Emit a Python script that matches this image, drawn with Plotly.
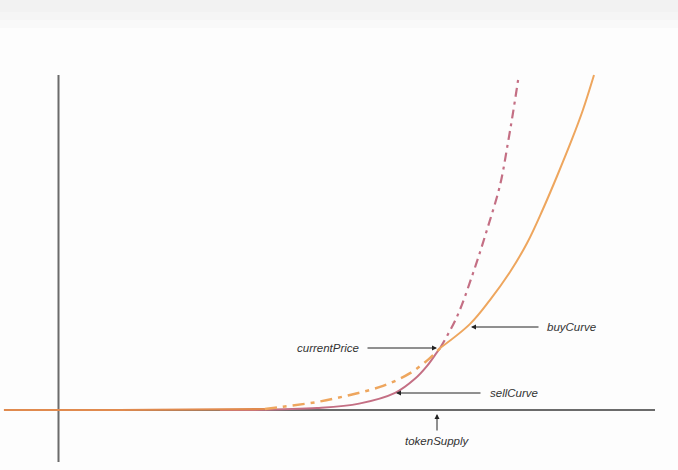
import plotly.graph_objects as go

# ---- data (tokenSupply on x, price on y; arbitrary units) ----
buy_flat_x = [-9.1, 10.0, 34.4]
buy_flat_y = [0.0, 0.0, 0.3]

buy_future_x = [34.4, 37.4, 43.1, 48.6, 54.1, 58.6, 61.9, 63.6]
buy_future_y = [0.3, 1.0, 2.4, 4.5, 7.2, 11.0, 15.5, 18.5]

buy_curve_x = [63.6, 68.6, 71.9, 75.25, 78.1, 80.75, 83.1, 85.6, 87.4, 89.25]
buy_curve_y = [18.5, 25.7, 32.8, 41.2, 49.85, 60.0, 69.85, 80.9, 89.55, 100.0]

sell_curve_x = [26.9, 31.9, 43.1, 50.1, 56.1, 59.4, 61.4, 63.1, 63.6]
sell_curve_y = [0.0, 0.0, 0.6, 1.9, 5.1, 9.3, 13.1, 17.3, 18.5]

sell_future_x = [63.6, 66.4, 69.1, 71.4, 73.6, 74.9, 75.75, 76.6]
sell_future_y = [18.5, 27.8, 40.9, 53.7, 67.2, 79.7, 88.7, 98.5]

labels = ["currentPrice", "buyCurve", "sellCurve", "tokenSupply"]

# ---- styles ----
ORANGE = "#EEA65E"
ORANGE_DARK = "#E08A4E"
MAUVE = "#C46F84"
AXIS = "#6B6B6B"
TEXT = "#333333"

# pixel -> data helpers (layout is a linear map of the 678x470 page)
X0, XS = 58.5, 6.0
Y0, YS = 410.0, 3.35
def dx(px):
    return (px - X0) / XS
def dy(py):
    return (Y0 - py) / YS

fig = go.Figure()

# axes
fig.add_shape(type="line", x0=dx(4), x1=dx(655), y0=0, y1=0,
              line=dict(color=AXIS, width=2), layer="below")
fig.add_shape(type="line", x0=0, x1=0, y0=dy(75), y1=dy(462),
              line=dict(color=AXIS, width=2), layer="below")

# sell curve (solid) and its continuation
fig.add_trace(go.Scatter(x=sell_curve_x, y=sell_curve_y, mode="lines",
                         line=dict(color=MAUVE, width=2, shape="spline"),
                         hoverinfo="skip"))
fig.add_trace(go.Scatter(x=sell_future_x, y=sell_future_y, mode="lines",
                         line=dict(color=MAUVE, width=2.2, shape="spline",
                                   dash="9px,5px,3px,5px"),
                         hoverinfo="skip"))
# buy curve
fig.add_trace(go.Scatter(x=buy_flat_x, y=buy_flat_y, mode="lines",
                         line=dict(color=ORANGE_DARK, width=2.2, shape="spline"),
                         hoverinfo="skip"))
fig.add_trace(go.Scatter(x=buy_future_x, y=buy_future_y, mode="lines",
                         line=dict(color=ORANGE, width=2.5, shape="spline",
                                   dash="12px,6px,4px,6px"),
                         hoverinfo="skip"))
fig.add_trace(go.Scatter(x=buy_curve_x, y=buy_curve_y, mode="lines",
                         line=dict(color=ORANGE, width=2, shape="spline"),
                         hoverinfo="skip"))

font = dict(family="Liberation Sans, Arial, sans-serif", size=11.5, color=TEXT)

def arrow(x_tip, y_tip, x_tail, y_tail):
    fig.add_annotation(x=x_tip, y=y_tip, ax=x_tail, ay=y_tail,
                       xref="x", yref="y", axref="x", ayref="y",
                       text="", showarrow=True, arrowhead=2, arrowsize=1,
                       arrowwidth=1, arrowcolor="#222222", standoff=0)

def label(text, px, py, anchor):
    fig.add_annotation(x=dx(px), y=dy(py), xref="x", yref="y",
                       text="<i>" + text + "</i>", showarrow=False,
                       xanchor=anchor, yanchor="middle", font=font)

# currentPrice
arrow(dx(437), dy(348), dx(366), dy(348))
label(labels[0], 361, 348, "right")
# buyCurve
arrow(dx(471), dy(327), dx(540), dy(327))
label(labels[1], 545, 327, "left")
# sellCurve
arrow(dx(396), dy(393), dx(482), dy(393))
label(labels[2], 488, 393, "left")
# tokenSupply
arrow(dx(437), dy(414), dx(437), dy(432))
label(labels[3], 437, 441, "center")

# faint top band like the screenshot
for top, bot, col in [(0, 12, "#f2f2f2"), (12, 20, "#f5f5f5"), (20, 28, "#f9f9f9")]:
    fig.add_shape(type="rect", xref="paper", yref="paper",
                  x0=0, x1=1, y0=1 - bot / 470, y1=1 - top / 470,
                  line=dict(width=0), fillcolor=col, layer="below")

fig.update_layout(
    width=678, height=470,
    margin=dict(l=0, r=0, t=0, b=0),
    paper_bgcolor="#fdfdfd", plot_bgcolor="rgba(0,0,0,0)",
    showlegend=False,
    xaxis=dict(range=[dx(0), dx(678)], visible=False, fixedrange=True),
    yaxis=dict(range=[dy(470), dy(0)], visible=False, fixedrange=True),
)

fig.write_html("out.html")
